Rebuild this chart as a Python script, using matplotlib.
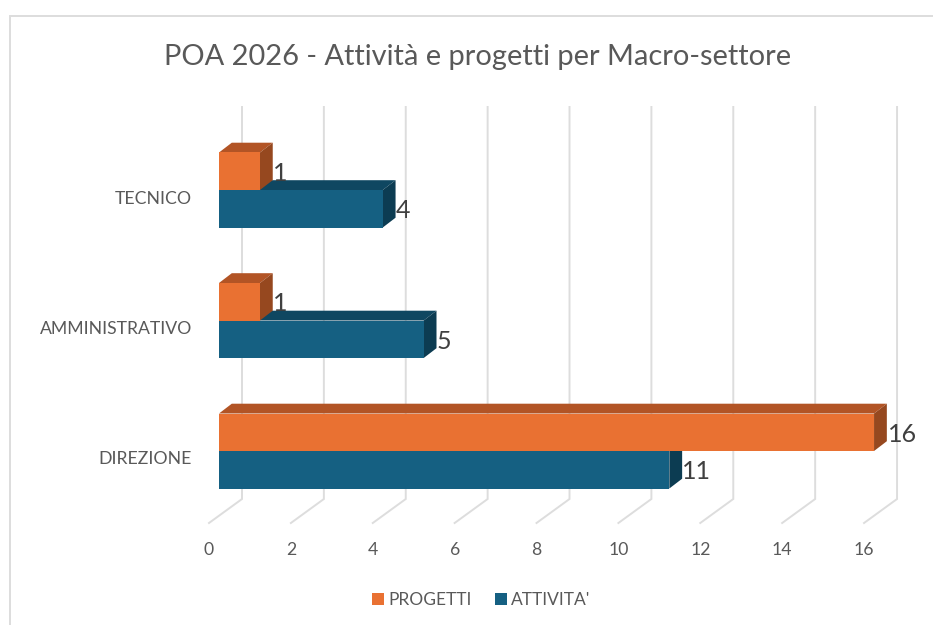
import matplotlib
matplotlib.use("Agg")
import matplotlib.pyplot as plt
from matplotlib.patches import Patch
from matplotlib.lines import Line2D
from matplotlib.transforms import ScaledTranslation

categories = ["DIREZIONE", "AMMINISTRATIVO", "TECNICO"]
attivita = [11, 5, 4]
progetti = [16, 1, 1]
xticks = [0, 2, 4, 6, 8, 10, 12, 14, 16]
title = "POA 2026 - Attività e progetti per Macro-settore"
series_names = ["PROGETTI", "ATTIVITA'"]

C_O, C_O_TOP, C_O_SIDE = "#E97132", "#B25425", "#96481F"
C_B, C_B_TOP, C_B_SIDE = "#156082", "#0F4761", "#0C3C52"
GRID = "#DDDDDD"
TXT = "#595959"
plt.rcParams["font.family"] = ["Lato", "DejaVu Sans"]

W, H = 933, 625
DPI = 100
fig = plt.figure(figsize=(W / DPI, H / DPI), dpi=DPI, facecolor="white")

# Layout in pixels
PX_UNIT = 40.94
X0 = 219.0
Y_TOP, Y_BOT = 107.0, 523.0
PX_CAT = 130.5
Y_CAT0 = 451.0
ax = fig.add_axes([X0 / W, 1 - Y_BOT / H, 17 * PX_UNIT / W, (Y_BOT - Y_TOP) / H])
ax.set_xlim(0, 17)
ax.set_ylim((Y_CAT0 - Y_BOT) / PX_CAT, (Y_CAT0 - Y_TOP) / PX_CAT)
ax.patch.set_alpha(0)
for s in ax.spines.values():
    s.set_visible(False)

# 3-D depth in data units
DX = 12.8 / PX_UNIT
DY = 9.8 / PX_CAT
BAR_H = 37.5 / PX_CAT
GRID_BACK = 23 / PX_UNIT
GRID_FRONT = -10 / PX_UNIT
GRID_Y_BACK = (Y_CAT0 - 499) / PX_CAT
ymin, ymax = ax.get_ylim()

for v in xticks:
    ax.plot([v + GRID_FRONT, v + GRID_BACK, v + GRID_BACK],
            [ymin, GRID_Y_BACK, ymax], color=GRID, lw=1.4,
            clip_on=False, zorder=1, solid_joinstyle="miter")


def box(v, y0, y1, front, top, side, z):
    ax.fill([0, DX, v + DX, v], [y1, y1 + DY, y1 + DY, y1], color=top, lw=0, zorder=z, clip_on=False)
    ax.fill([v, v + DX, v + DX, v], [y0, y0 + DY, y1 + DY, y1], color=side, lw=0, zorder=z, clip_on=False)
    ax.barh((y0 + y1) / 2, v, height=y1 - y0, color=front, lw=0, zorder=z, clip_on=False)


for i in range(len(categories)):
    box(attivita[i], i - BAR_H, i, C_B, C_B_TOP, C_B_SIDE, 2 + i * 0.1)
    box(progetti[i], i, i + BAR_H, C_O, C_O_TOP, C_O_SIDE, 3 + i * 0.1)
    ax.annotate(str(attivita[i]), (attivita[i], i - BAR_H / 2), xytext=(13, -2),
                textcoords="offset pixels", fontsize=18, color="#404040", va="center", zorder=6)
    ax.annotate(str(progetti[i]), (progetti[i], i + BAR_H / 2), xytext=(13.5, -2),
                textcoords="offset pixels", fontsize=18, color="#404040", va="center", zorder=6)

ax.set_xticks(xticks)
ax.set_yticks(range(len(categories)), categories)
ax.tick_params(axis="x", length=0, pad=14, labelsize=12.7, labelcolor=TXT)
ax.tick_params(axis="y", length=0, pad=19.5, labelsize=12.7, labelcolor=TXT)
off_x = ScaledTranslation(-10 / DPI, 0, fig.dpi_scale_trans)
off_y = ScaledTranslation(0, -7 / DPI, fig.dpi_scale_trans)
for lab in ax.get_xticklabels():
    lab.set_transform(lab.get_transform() + off_x)
for lab in ax.get_yticklabels():
    lab.set_transform(lab.get_transform() + off_y)

fig.text(478 / W, 1 - 57 / H, title, ha="center", va="center", fontsize=20.9, color=TXT)

handles = [Patch(color=C_O, lw=0), Patch(color=C_B, lw=0)]
fs = 12.5
fig.legend(handles, series_names, loc="center", bbox_to_anchor=(481.5 / W, 1 - 600 / H),
           ncol=2, frameon=False, fontsize=fs, labelcolor=TXT, handlelength=8.6 / fs,
           handleheight=8.6 / fs, handletextpad=0.24, columnspacing=1.35,
           borderpad=0, borderaxespad=0)

# Chart frame
fig.add_artist(Line2D([9.5 / W, 9.5 / W, 1], [0, 1 - 16 / H, 1 - 16 / H], color=GRID, lw=1.4,
                      solid_joinstyle="miter"))

fig.savefig("out.png", dpi=DPI)
